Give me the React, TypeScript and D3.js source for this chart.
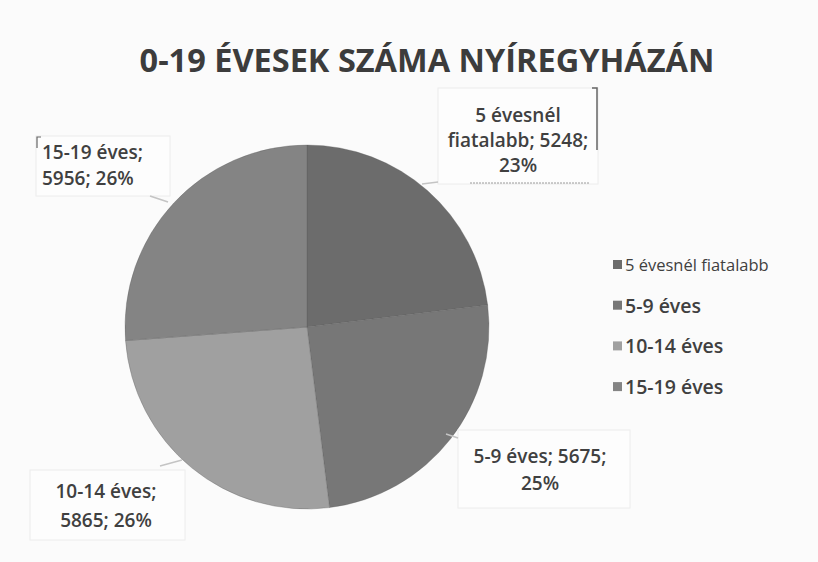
import React, { useEffect, useRef } from "react";
import * as d3 from "d3";

const categories = ["5 évesnél fiatalabb", "5-9 éves", "10-14 éves", "15-19 éves"];
const values = [5248, 5675, 5865, 5956];
const labelLines = [
  ["5 évesnél", "fiatalabb; 5248;", "23%"],
  ["5-9 éves; 5675;", "25%"],
  ["10-14 éves;", "5865; 26%"],
  ["15-19 éves;", "5956; 26%"],
];
const colors = ["#6c6c6c", "#777777", "#a0a0a0", "#848484"];

const W = 818, H = 562;
const FONT = "'Open Sans', 'DejaVu Sans', sans-serif";

export default function App() {
  const ref = useRef<SVGSVGElement>(null);

  useEffect(() => {
    const svg = d3.select(ref.current);
    svg.selectAll("*").remove();

    svg.append("rect").attr("width", W).attr("height", H).attr("fill", "#fbfbfb");

    svg.append("text")
      .attr("x", 427).attr("y", 72)
      .attr("text-anchor", "middle")
      .attr("font-family", FONT).attr("font-weight", 700).attr("font-size", 32.5)
      .attr("fill", "#3c3c3c")
      .text("0-19 ÉVESEK SZÁMA NYÍREGYHÁZÁN");

    const cx = 307, cy = 327, r = 182;
    const pie = d3.pie<number>().sort(null).value(d => d);
    const arc = d3.arc<d3.PieArcDatum<number>>().innerRadius(0).outerRadius(r);
    const arcs = pie(values);

    const g = svg.append("g").attr("transform", `translate(${cx},${cy})`);
    g.selectAll("path")
      .data(arcs)
      .enter()
      .append("path")
      .attr("d", arc)
      .attr("fill", (_, i) => colors[i])
      .attr("stroke", "#555")
      .attr("stroke-opacity", 0.3)
      .attr("stroke-width", 1);

    // data labels (faint boxes with text)
    const labelPos = [
      { x: 518, y: 122, dy: 25, anchor: "middle", box: [438, 88, 160, 96] },
      { x: 540, y: 463, dy: 27, anchor: "middle", box: [458, 430, 172, 78] },
      { x: 106, y: 498, dy: 29, anchor: "middle", box: [30, 470, 155, 70] },
      { x: 42, y: 159, dy: 25.5, anchor: "start", box: [36, 136, 134, 60] },
    ];
    const leaders = [
      [[438, 182], [422, 184]],
      [[458, 438], [446, 434]],
      [[160, 466], [182, 460]],
      [[150, 196], [168, 202]],
    ];

    labelPos.forEach((p, i) => {
      const [bx, by, bw, bh] = p.box;
      svg.append("rect")
        .attr("x", bx).attr("y", by).attr("width", bw).attr("height", bh)
        .attr("fill", "#fdfdfd").attr("stroke", "#ececec").attr("stroke-width", 1);
      svg.append("polyline")
        .attr("points", leaders[i].map(d => d.join(",")).join(" "))
        .attr("fill", "none").attr("stroke", "#c4c4c4").attr("stroke-width", 1.5);
      const t = svg.append("text")
        .attr("font-family", FONT).attr("font-weight", 600).attr("font-size", 19)
        .attr("fill", "#404040").attr("text-anchor", p.anchor);
      labelLines[i].forEach((line, j) => {
        t.append("tspan").attr("x", p.x).attr("y", p.y + j * p.dy).text(line);
      });
    });

    // bracket marks on a few boxes
    svg.append("path").attr("d", "M592,88 L597,88 L597,150")
      .attr("fill", "none").attr("stroke", "#666").attr("stroke-width", 1.5);
    svg.append("path").attr("d", "M470,183 L590,183")
      .attr("fill", "none").attr("stroke", "#9a9a9a").attr("stroke-width", 1)
      .attr("stroke-dasharray", "2,1");
    svg.append("path").attr("d", "M41,137 L37,137 L37,148")
      .attr("fill", "none").attr("stroke", "#666").attr("stroke-width", 1.2);

    // legend
    const legendSizes = [16.5, 19.5, 19.5, 19.5];
    const legend = svg.append("g").attr("transform", "translate(613,265)");
    const rows = legend.selectAll("g")
      .data(categories)
      .enter()
      .append("g")
      .attr("transform", (_, i) => `translate(0,${i * 40.7})`);
    rows.append("rect")
      .attr("x", 0).attr("y", -5).attr("width", 9).attr("height", 9)
      .attr("fill", (_, i) => colors[i]);
    rows.append("text")
      .attr("x", 12).attr("y", (_, i) => (i === 0 ? 6 : 7))
      .attr("font-family", FONT).attr("font-weight", (_, i) => (i === 0 ? 400 : 600))
      .attr("font-size", (_, i) => legendSizes[i])
      .attr("fill", "#404040")
      .text(d => d);
  }, []);

  return (
    <svg
      ref={ref}
      width={W}
      height={H}
      style={{ display: "block", position: "absolute", left: 0, top: 0 }}
    />
  );
}
